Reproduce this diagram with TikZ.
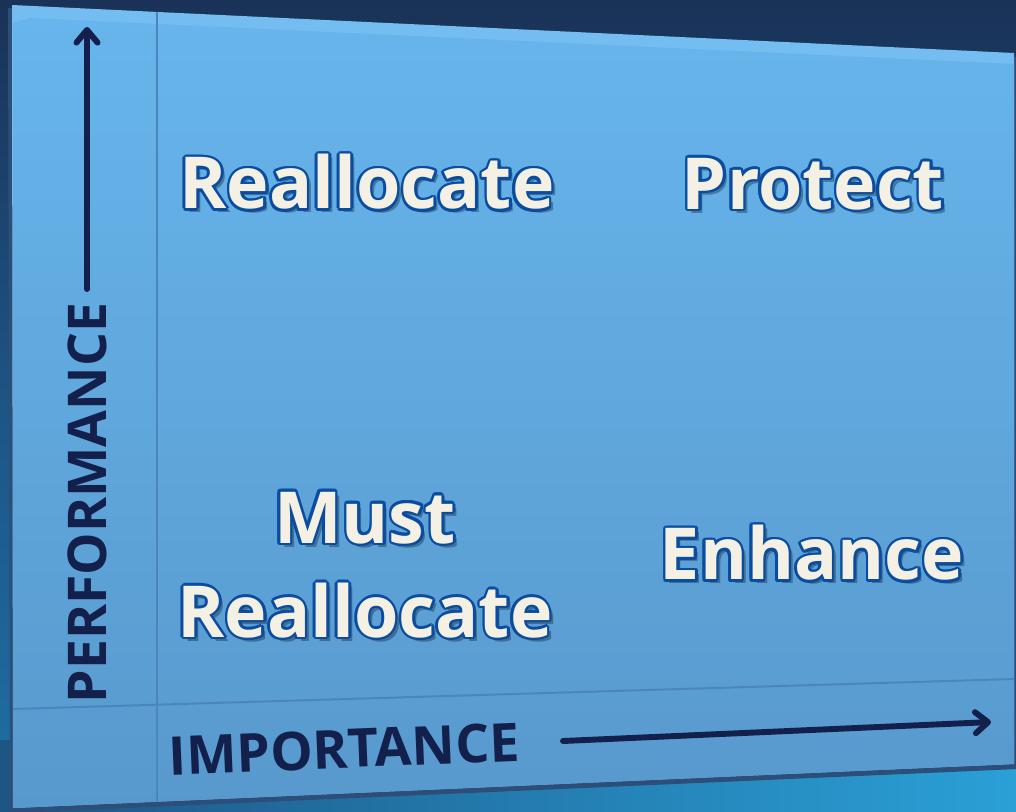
\documentclass[tikz,border=0pt]{standalone}
\usepackage{fontspec}
\setmainfont{Open Sans}
\usetikzlibrary{arrows.meta,calc}

\definecolor{bgtop}{HTML}{1A3257}
\definecolor{bgmid}{HTML}{1D5585}
\definecolor{bgbot}{HTML}{1E70A6}
\definecolor{bgteal}{HTML}{2AA0D6}
\definecolor{paneltop}{HTML}{67B5EC}
\definecolor{panelbot}{HTML}{5899CD}
\definecolor{panelrim}{HTML}{74BDF0}
\definecolor{panelshade}{HTML}{2D4E78}
\definecolor{gridblue}{HTML}{4A85BD}
\definecolor{axisblue}{HTML}{13204B}
\definecolor{quadfill}{HTML}{F4F0E3}
\definecolor{quadedge}{HTML}{0B4C9E}

% outlined quadrant label: name, position, text
\newcommand{\quadlabel}[3]{%
  \node[quadshadow] at ($#2+(4,4)$) {#3};
  \foreach \a in {0,30,...,330}
    \node[quadline] at ($#2+(\a:2.6)$) {#3};
  \node[quad] (#1) at #2 {#3};
}

\begin{document}
\begin{tikzpicture}[x=0.025cm, y=-0.025cm,
  quad/.style={
    font=\bfseries\fontsize{51}{67}\selectfont,
    text=quadfill, inner sep=0pt, align=center
  },
  quadline/.style={quad, text=quadedge},
  quadshadow/.style={quad, text=black, opacity=0.3},
  axistext/.style={font=\bfseries\fontsize{38}{40}\selectfont, text=axisblue, inner sep=0pt},
  axisarrow/.style={draw=axisblue, line width=4.2pt, line cap=round,
    -{Straight Barb[round, length=9pt, width=15pt]}},
  gridline/.style={draw=gridblue, line width=1.4pt}
]

% backdrop
\useasboundingbox (0,0) rectangle (1016,811);
\shade[top color=bgtop, bottom color=bgbot, middle color=bgmid] (0,0) rectangle (1016,811);
\shade[left color=bgmid, right color=bgteal] (0,740) rectangle (1016,811);

% panel
\coordinate (tl) at (12,5);
\coordinate (tr) at (1014,53);
\coordinate (br) at (1014,764);
\coordinate (bl) at (13,808);
\fill[panelshade] (8,8) -- (1018,57) -- (1018,769) -- (10,813) -- cycle;
\fill[panelrim] (tl) -- (tr) -- (br) -- (bl) -- cycle;
\shade[top color=paneltop, bottom color=panelbot]
  (30,18) -- (1014,64) -- (br) -- (bl) -- (13,23) -- cycle;

% quadrant lines
\coordinate (vtop) at (157,12);
\coordinate (vbot) at (157,802);
\coordinate (hleft) at (13,709);
\coordinate (hright) at (1014,679);
\draw[gridline] (vtop) -- (vbot);
\draw[gridline] (hleft) -- (hright);

% axes
\node[axistext, rotate=90] (perf) at (87,503) {PERFORMANCE};
\node[axistext, rotate=2.3] (imp) at (344,749) {IMPORTANCE};
\coordinate (ybase) at (87,289);
\coordinate (ytop) at (87,27);
\coordinate (xbase) at (563,741);
\coordinate (xtip) at (991,722);
\draw[axisarrow] (ybase) -- (ytop);
\draw[axisarrow] (xbase) -- (xtip);

% quadrants
\quadlabel{realloc}{(367,182)}{Reallocate}
\quadlabel{protect}{(813,184)}{Protect}
\quadlabel{must}{(365,565)}{Must\\Reallocate}
\quadlabel{enhance}{(812,553)}{Enhance}

\end{tikzpicture}
\end{document}
